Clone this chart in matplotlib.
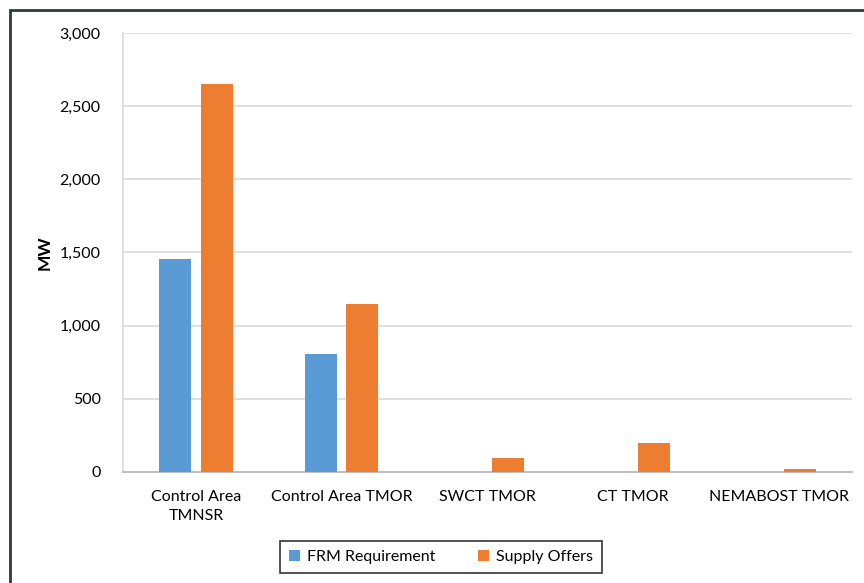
import matplotlib
matplotlib.use('Agg')
import matplotlib.pyplot as plt
from matplotlib.patches import Rectangle
import numpy as np

plt.rcParams['font.family'] = ['Lato', 'DejaVu Sans']

# reserve categories and MW amounts
categories = ['Control Area\nTMNSR', 'Control Area TMOR', 'SWCT TMOR', 'CT TMOR', 'NEMABOST TMOR']
frm_requirement = [1455, 805, 0, 0, 0]
supply_offers = [2650, 1150, 95, 195, 23]

blue = '#5b9bd5'
orange = '#ed7d31'

fig = plt.figure(figsize=(8.64, 5.83), dpi=100)
ax = fig.add_axes([0.1424, 0.1904, 0.8437, 0.753])

x = np.arange(len(categories))
w = 0.22
ax.bar(x - 0.142, frm_requirement, width=w, color=blue, label='FRM Requirement', zorder=3)
ax.bar(x + 0.142, supply_offers, width=w, color=orange, label='Supply Offers', zorder=3)

ax.set_xlim(-0.5, len(categories) - 0.5)
ax.set_ylim(0, 3000)
ax.set_yticks(np.arange(0, 3001, 500))
ax.set_yticklabels(['{:,}'.format(v) for v in range(0, 3001, 500)])
ax.set_xticks(x)
ax.set_xticklabels(categories, linespacing=1.45)
ax.grid(axis='y', color='#d9d9d9', linewidth=1.2, zorder=0)
ax.tick_params(axis='y', length=0, pad=16, labelsize=11.5)
ax.tick_params(axis='x', length=0, pad=13, labelsize=11.5)
for s in ['top', 'right']:
    ax.spines[s].set_visible(False)
ax.spines['left'].set_color('#d9d9d9')
ax.spines['bottom'].set_color('#bfbfbf')
ax.spines['left'].set_linewidth(1.2)
ax.spines['bottom'].set_linewidth(1.5)
ax.set_ylabel('MW', fontsize=12.5, fontweight='bold', labelpad=5)

leg = ax.legend(loc='center', bbox_to_anchor=(441 / 864, 1 - 557 / 583),
                bbox_transform=fig.transFigure, ncol=2, frameon=True, fancybox=False,
                fontsize=11.5, handlelength=0.7, handleheight=0.7, columnspacing=2.7,
                handletextpad=0.4, borderpad=0.55, borderaxespad=0)
leg.get_frame().set_edgecolor('black')
leg.get_frame().set_linewidth(1.2)

# outer frame, open on the right and bottom
fig.add_artist(Rectangle((9.5 / 864, -0.1), 1.2, 1 - 10 / 583 + 0.1,
                         transform=fig.transFigure, fill=False,
                         edgecolor='#2e3b3e', linewidth=2))

fig.savefig('out.png', dpi=100)
